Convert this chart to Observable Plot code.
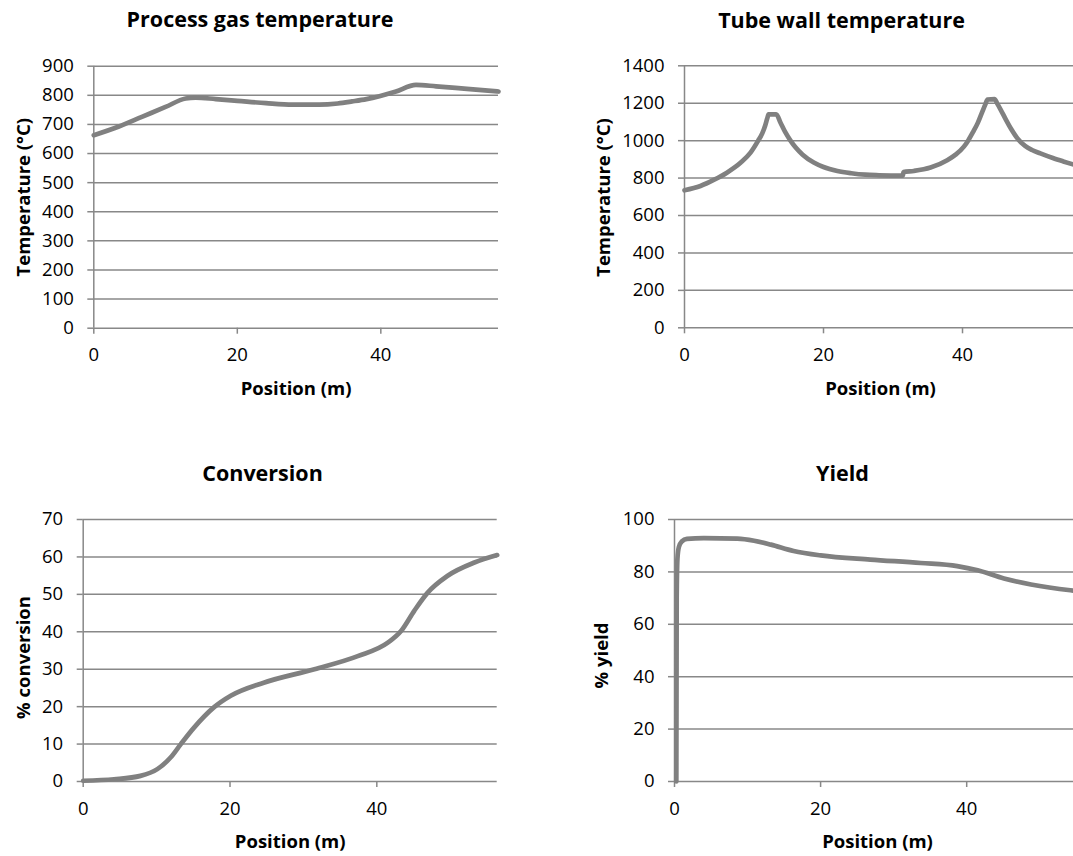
<!DOCTYPE html>
<html>
<head>
<meta charset="utf-8">
<script src="https://cdn.jsdelivr.net/npm/d3@7"></script>
<script src="https://cdn.jsdelivr.net/npm/@observablehq/plot@0.6"></script>
<style>
  html, body { margin: 0; padding: 0; background: #fff; overflow: hidden; }
  #page { position: relative; width: 1073px; height: 856px; overflow: hidden; background: #fff; }
  .panel { position: absolute; }
  .panel svg { max-width: none !important; }
</style>
</head>
<body>
<div id="page"></div>
<script>
// Shared x axis
const positionLabel = "Position (m)";
const xTicks = [0, 20, 40];
const xMax = 56.4;

// Process gas temperature (°C) along the tube
const gasPosition    = [0, 3.5, 6.7, 10, 12.8, 14.2, 17, 20, 24, 27.7, 31.4, 34, 36, 38, 39.8, 42, 44.9, 47.7, 52, 56.4];
const gasTemperature = [663, 693, 726, 760, 789, 792, 787, 781, 773, 768, 768, 772, 779, 787, 797, 812, 836, 831, 822, 813];
const gasTicks = [0, 100, 200, 300, 400, 500, 600, 700, 800, 900];

// Tube wall temperature (°C)
const wallPosition    = [0, 2.3, 4.2, 6.1, 8.1, 9.5, 10.6, 11.2, 11.6, 11.9, 12.1, 13.2, 13.8, 14.5, 15.25, 16, 17, 18.6, 20, 22, 24, 26, 28, 31.4, 31.5, 33, 35.4, 37.8, 39, 40.2, 40.8, 41.5, 42.2, 42.8, 43.3, 43.6, 44.6, 45.0, 45.5, 46.2, 47.0, 47.9, 49, 50, 51.2, 53, 54.5, 56.4];
const wallTemperature = [735, 758, 790, 829, 883, 936, 1000, 1040, 1080, 1118, 1140, 1141, 1097, 1045, 1000, 963, 925, 883, 859, 838, 826, 818, 815, 813, 832, 838, 856, 895, 925, 968, 1000, 1045, 1095, 1150, 1195, 1220, 1222, 1198, 1165, 1115, 1062, 1012, 972, 950, 932, 907, 889, 868];
const wallTicks = [0, 200, 400, 600, 800, 1000, 1200, 1400];

// Conversion (%)
const convPosition = [0, 4.2, 7.8, 10.1, 11.9, 13.3, 15.1, 17.8, 20.1, 24.6, 31.5, 37.4, 41.5, 43.3, 45.1, 46.9, 49.6, 53.3, 56.4];
const conversion   = [0.2, 0.6, 1.5, 3.3, 6.4, 10, 14.4, 19.8, 22.9, 26.4, 30, 33.5, 37.1, 40.2, 45.6, 50.4, 54.9, 58.5, 60.5];
const convTicks = [0, 10, 20, 30, 40, 50, 60, 70];

// Yield (%)
const yieldPosition = [0.25, 0.3, 0.4, 0.6, 1, 1.7, 4, 8.6, 10.9, 13.2, 16.3, 20, 26.8, 33.7, 38.7, 41.5, 45.1, 48.8, 54.2, 56.4];
const yieldPct      = [0, 70, 85, 89.5, 91.6, 92.6, 92.9, 92.7, 91.9, 90.4, 88, 86.3, 84.7, 83.4, 82.2, 80.6, 77.5, 75.2, 73, 72.4];
const yieldTicks = [0, 20, 40, 60, 80, 100];

const GRID = "#888888";
const LINE = "#808080";
const FONT = "'Open Sans', sans-serif";

const page = document.getElementById("page");

function panel(cfg) {
  const { box, frame, xs, ys, yTicks, title, titleAt, yLabel, yLabelAt, xLabelAt } = cfg;
  const marginLeft = frame.left - box.x;
  const marginRight = box.x + box.w - frame.right;
  const marginTop = frame.top - box.y;
  const marginBottom = box.y + box.h - frame.bottom;
  const data = xs.map((x, i) => ({ x, y: ys[i] }));
  // offsets from the frame's top-left corner for text placed at page coordinates
  const at = ([px, py]) => ({ frameAnchor: "top-left", dx: px - frame.left, dy: py - frame.top });

  const chart = Plot.plot({
    width: box.w,
    height: box.h,
    marginLeft, marginRight, marginTop, marginBottom,
    style: { fontFamily: FONT, background: "transparent", overflow: "visible" },
    x: { domain: [0, xMax], axis: null },
    y: { domain: [0, d3.max(yTicks)], axis: null },
    marks: [
      Plot.gridY(yTicks, { stroke: GRID, strokeOpacity: 1, strokeWidth: 1.5 }),
      Plot.ruleX([0], { stroke: GRID, strokeWidth: 1.5 }),
      Plot.axisY(yTicks, {
        tickSize: 6, tickPadding: 14, fontSize: 18.5, stroke: GRID, strokeWidth: 1.5,
        fill: "#000", label: null, tickFormat: d => String(d)
      }),
      Plot.axisX(xTicks, {
        tickSize: 6, tickPadding: 14, fontSize: 18.5, stroke: GRID, strokeWidth: 1.5,
        fill: "#000", label: null, tickFormat: d => String(d)
      }),
      Plot.line(data, {
        x: "x", y: "y", stroke: LINE, strokeWidth: 4.7, curve: "monotone-x",
        strokeLinejoin: "round", strokeLinecap: "round"
      }),
      Plot.text([title], {
        ...at(titleAt), text: d => d, textAnchor: "middle", lineAnchor: "bottom",
        fontSize: 21.5, fontWeight: "bold", fill: "#000"
      }),
      Plot.text([yLabel], {
        ...at(yLabelAt), text: d => d, textAnchor: "middle", lineAnchor: "bottom", rotate: -90,
        fontSize: 18.5, fontWeight: "bold", fill: "#000"
      }),
      Plot.text([positionLabel], {
        ...at(xLabelAt), text: d => d, textAnchor: "middle", lineAnchor: "bottom",
        fontSize: 18.5, fontWeight: "bold", fill: "#000"
      })
    ]
  });
  chart.style.maxWidth = "none";

  const holder = document.createElement("div");
  holder.className = "panel";
  holder.style.left = box.x + "px";
  holder.style.top = box.y + "px";
  holder.style.width = box.w + "px";
  holder.style.height = box.h + "px";
  holder.appendChild(chart);
  page.appendChild(holder);
}

panel({
  box: { x: 0, y: 0, w: 536, h: 428 },
  frame: { left: 93.3, right: 498, top: 65.7, bottom: 327.7 },
  xs: gasPosition, ys: gasTemperature, yTicks: gasTicks,
  title: "Process gas temperature", titleAt: [259.5, 27],
  yLabel: "Temperature (°C)", yLabelAt: [29.3, 196.7],
  xLabelAt: [295.6, 394]
});

panel({
  box: { x: 536, y: 0, w: 560, h: 428 },
  frame: { left: 684, right: 1076, top: 65.3, bottom: 327.3 },
  xs: wallPosition, ys: wallTemperature, yTicks: wallTicks,
  title: "Tube wall temperature", titleAt: [841, 27],
  yLabel: "Temperature (°C)", yLabelAt: [609, 197],
  xLabelAt: [880, 394]
});

panel({
  box: { x: 0, y: 428, w: 536, h: 428 },
  frame: { left: 82.7, right: 496.7, top: 519, bottom: 781 },
  xs: convPosition, ys: conversion, yTicks: convTicks,
  title: "Conversion", titleAt: [262, 480],
  yLabel: "% conversion", yLabelAt: [29.3, 657],
  xLabelAt: [289.7, 847.5]
});

panel({
  box: { x: 536, y: 428, w: 560, h: 428 },
  frame: { left: 674, right: 1086, top: 519, bottom: 781 },
  xs: yieldPosition, ys: yieldPct, yTicks: yieldTicks,
  title: "Yield", titleAt: [842, 480],
  yLabel: "% yield", yLabelAt: [607, 655],
  xLabelAt: [877, 847.5]
});
</script>
</body>
</html>
